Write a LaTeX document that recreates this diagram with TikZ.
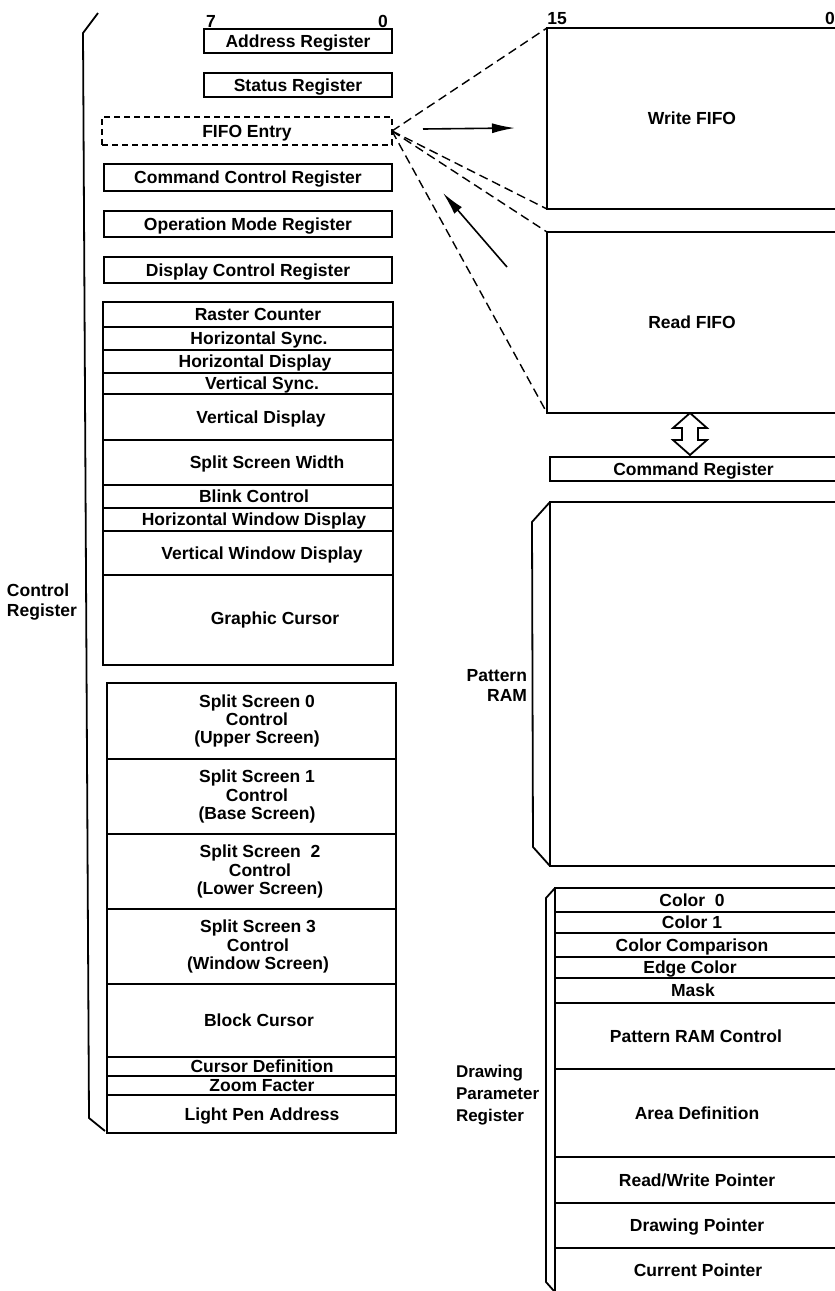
\documentclass[tikz,border=0pt]{standalone}
\usepackage{fontspec}
\newfontfamily\lbl{Liberation Sans Bold}
\usetikzlibrary{arrows.meta}
\begin{document}
\begin{tikzpicture}[x=1pt,y=-1pt,
  every node/.style={inner sep=0pt, outer sep=0pt, font=\lbl\fontsize{17.5}{18.3}\selectfont},
  txt/.style={text height=12.5pt, text depth=0pt},
  regbox/.style={draw, line width=2.4pt, text height=12.5pt, text depth=0pt},
  dbox/.style={draw, line width=1.4pt, dash pattern=on 6pt off 4pt, text height=12.5pt, text depth=0pt},
  gridline/.style={line width=2.4pt},
  brk/.style={line width=1.8pt, line join=round},
  dline/.style={line width=1.4pt, dash pattern=on 9pt off 5pt},
  arr/.style={line width=1.6pt, -{Latex[length=23pt,width=10pt]}}
]
\useasboundingbox (0,0) rectangle (835,1291);

% bit labels
\node[txt] (b7) at (211,21) {7};
\node[txt] (b0) at (383,21) {0};
\node[txt] (b15) at (557,18) {15};
\node[txt] (b0r) at (830,18) {0};

% top registers
\node[regbox, minimum width=188pt, minimum height=24pt] (addr) at (298,41) {Address Register};
\node[regbox, minimum width=188pt, minimum height=24pt] (stat) at (298,85) {Status Register};
\node[dbox, minimum width=290pt, minimum height=28pt] (fifo) at (247,131) {FIFO Entry};
\node[regbox, minimum width=288pt, minimum height=27pt] (ccr) at (248,177.5) {Command Control Register};
\node[regbox, minimum width=288pt, minimum height=26pt] (omr) at (248,224) {Operation Mode Register};
\node[regbox, minimum width=288pt, minimum height=26pt] (dcr) at (248,270) {Display Control Register};

% control register grid 1
\draw[gridline] (103,302) rectangle (393,665);
\foreach \yy in {327,350,373,394,440,485,508,531,575}
  \draw[gridline] (103,\yy) -- (393,\yy);
\node[txt] (rc)  at (258,314.5) {Raster Counter};
\node[txt] (hs)  at (259,338.5) {Horizontal Sync.};
\node[txt] (hd)  at (255,361.5) {Horizontal Display};
\node[txt] (vs)  at (262,383.5) {Vertical Sync.};
\node[txt] (vd)  at (261,417) {Vertical Display};
\node[txt] (ssw) at (267,462.5) {Split Screen Width};
\node[txt] (bc)  at (254,496.5) {Blink Control};
\node[txt] (hwd) at (254,519.5) {Horizontal Window Display};
\node[txt] (vwd) at (262,553) {Vertical Window Display};
\node[txt] (gc)  at (275,618) {Graphic Cursor};

% control register grid 2
\draw[gridline] (107,683) rectangle (396,1133);
\foreach \yy in {759,834,909,984,1057,1076,1095}
  \draw[gridline] (107,\yy) -- (396,\yy);
\node[align=center] (ss0) at (257,721) {Split Screen 0\\Control\\(Upper Screen)};
\node[align=center] (ss1) at (257,796.5) {Split Screen 1\\Control\\(Base Screen)};
\node[align=center] (ss2) at (260,871.5) {Split Screen\ \ 2\\Control\\(Lower Screen)};
\node[align=center] (ss3) at (258,946.5) {Split Screen 3\\Control\\(Window Screen)};
\node[txt] (blc) at (259,1020.5) {Block Cursor};
\node[txt] (cd)  at (262,1066.5) {Cursor Definition};
\node[txt] (zf)  at (262,1085.5) {Zoom Facter};
\node[txt] (lpa) at (262,1114) {Light Pen Address};

% left bracket
\draw[brk] (98,13) -- (83,33) -- (89,1118) -- (105,1131);
\node[align=left, font=\lbl\fontsize{17.5}{20.7}\selectfont] (ctrlreg) at (42,602) {Control\\Register};

% FIFOs
\node[regbox, minimum width=290pt, minimum height=181pt] (wfifo) at (692,118.5) {Write FIFO};
\node[regbox, minimum width=290pt, minimum height=181pt] (rfifo) at (692,322.5) {Read FIFO};

\draw[dline] (fifo.east) -- (wfifo.north west);
\draw[dline] (fifo.east) -- (wfifo.south west);
\draw[dline] (fifo.east) -- (rfifo.north west);
\draw[dline] (fifo.east) -- (rfifo.south west);

\coordinate (a1s) at (423,129);
\coordinate (a1e) at (515,128);
\draw[arr] (a1s) -- (a1e);
\coordinate (a2s) at (507,267);
\coordinate (a2e) at (443,193);
\draw[arr] (a2s) -- (a2e);

% command register
\node[regbox, minimum width=287pt, minimum height=24pt] (cmdreg) at (693.5,469) {Command Register};
\draw[line width=1.8pt, line join=miter, fill=white]
  (690,413) -- (707,428) -- (698,428) -- (698,440) -- (707,440) -- (690,455)
  -- (673,440) -- (682,440) -- (682,428) -- (673,428) -- cycle;

% pattern RAM
\node[regbox, minimum width=287pt, minimum height=364pt] (pram) at (693.5,684) {};
\draw[brk] (pram.north west) -- (532,522) -- (533,847) -- (pram.south west);
\node[align=right, anchor=east, font=\lbl\fontsize{17.5}{20}\selectfont] (pramlbl) at (527,685) {Pattern\\RAM};

% drawing parameter register
\draw[gridline] (555,1300) -- (555,888) -- (840,888);
\foreach \yy in {912,933,957,978,1003,1069,1157,1203,1248}
  \draw[gridline] (555,\yy) -- (840,\yy);
\draw[brk] (555,888) -- (546,898) -- (546,1282) -- (554,1291);
\node[txt] (c0)  at (692,900) {Color\ \ 0};
\node[txt] (c1)  at (692,922.5) {Color 1};
\node[txt] (ccmp) at (692,945) {Color Comparison};
\node[txt] (ec)  at (690,967.5) {Edge Color};
\node[txt] (mk)  at (693,990.5) {Mask};
\node[txt] (prc) at (696,1036) {Pattern RAM Control};
\node[txt] (ad)  at (697,1113) {Area Definition};
\node[txt] (rwp) at (697,1180) {Read/Write Pointer};
\node[txt] (dp)  at (697,1225) {Drawing Pointer};
\node[txt] (cp)  at (698,1270) {Current Pointer};
\node[align=left, anchor=west, font=\lbl\fontsize{17}{21.7}\selectfont] (dprlbl) at (456,1095) {Drawing\\Parameter\\Register};
\end{tikzpicture}
\end{document}
